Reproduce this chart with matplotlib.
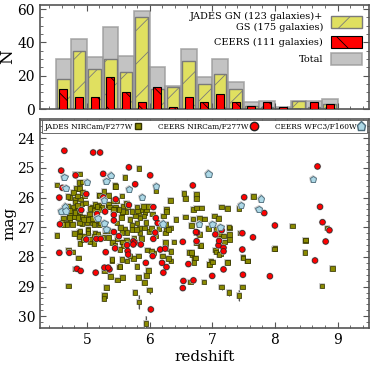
import numpy as np
import matplotlib
matplotlib.use("Agg")
import matplotlib.pyplot as plt
import matplotlib.patheffects as pe
from matplotlib.lines import Line2D

plt.rcParams['font.family'] = 'DejaVu Serif'
plt.rcParams['hatch.linewidth'] = 0.6

# histogram counts per redshift bin (bins of 0.25 from 4.5 to 9.0)
bin_lo = [4.5, 4.75, 5.0, 5.25, 5.5, 5.75, 6.0, 6.25, 6.5, 6.75,
          7.0, 7.25, 7.5, 7.75, 8.0, 8.25, 8.5, 8.75]
n_jades = [18, 35, 24, 30, 22, 55, 12, 13, 29, 15, 21, 12, 2, 1, 0, 5, 1, 3]
n_ceers = [12, 7, 7, 19, 10, 4, 13, 1, 7, 4, 9, 4, 2, 4, 1, 0, 4, 3]
n_total = [30, 42, 31, 49, 32, 59, 25, 14, 36, 19, 30, 16, 4, 5, 1, 5, 5, 6]

# JADES NIRCam/F277W (redshift, mag)
jades = [
    (4.52, 25.58), (4.81, 25.21), (4.89, 25.21), (4.88, 25.49), (4.93, 25.47), (4.83, 25.69),
    (4.88, 25.69), (4.79, 25.83), (4.93, 25.83), (4.73, 26.00), (4.81, 26.05), (4.90, 26.05),
    (4.85, 25.95), (4.96, 25.92), (5.45, 25.58), (5.45, 25.64), (5.61, 25.32), (5.83, 25.01),
    (6.10, 25.78), (5.19, 25.93), (5.27, 25.80), (5.46, 25.62), (4.70, 25.97), (6.55, 25.86),
    (6.57, 26.04), (6.75, 25.90), (6.75, 26.04), (7.66, 25.97), (6.33, 26.09), (5.34, 25.93),
    (5.56, 25.95), (5.19, 25.91),
    (4.70, 26.28), (4.79, 26.34), (4.84, 26.28), (4.73, 26.43), (4.81, 26.46), (4.72, 26.66),
    (4.78, 26.66), (4.85, 26.60), (4.95, 26.68), (5.08, 26.31), (5.13, 26.23), (5.04, 26.57),
    (5.42, 26.10), (5.48, 26.10), (5.46, 26.34), (5.34, 26.31), (5.17, 26.28), (4.81, 26.15),
    (4.85, 26.27), (4.92, 26.21), (4.98, 26.18), (5.19, 26.27), (5.17, 26.38), (5.24, 26.31),
    (5.34, 26.23), (5.36, 26.31), (5.45, 26.40), (5.12, 26.42), (4.89, 26.46), (4.81, 26.51),
    (4.73, 26.60), (4.80, 26.65), (4.86, 26.68), (4.92, 26.65), (4.73, 26.76), (4.60, 26.83),
    (4.68, 26.85), (4.92, 26.88), (5.00, 26.83), (5.05, 26.71), (5.09, 26.85), (5.16, 26.79),
    (5.19, 26.91), (5.48, 26.85), (5.56, 26.51), (5.62, 26.49), (5.58, 26.29), (5.80, 26.31),
    (5.82, 26.51), (5.89, 26.42), (5.93, 26.51), (5.95, 26.40), (5.98, 26.30), (5.90, 26.30),
    (5.81, 26.45), (5.72, 26.46), (5.63, 26.19), (5.65, 26.30), (5.57, 26.46), (5.55, 26.68),
    (5.69, 26.74), (5.78, 26.62), (5.85, 26.69), (5.91, 26.62), (5.94, 26.83), (5.80, 26.85),
    (5.84, 27.02), (5.92, 27.02), (5.85, 27.20), (5.72, 26.93), (5.61, 27.06), (5.54, 27.00),
    (5.42, 26.40), (5.51, 26.40), (5.19, 26.40), (5.16, 26.30), (5.05, 26.36), (4.95, 26.74),
    (4.88, 26.85), (5.03, 26.74), (5.09, 26.71), (5.11, 26.90), (5.22, 26.85), (5.02, 27.07),
    (4.88, 27.16), (4.77, 26.91), (4.68, 26.90), (4.72, 26.68), (4.62, 26.90), (4.63, 26.69),
    (6.27, 26.40), (6.27, 26.47), (6.42, 26.74), (6.34, 27.02), (6.26, 27.10), (6.70, 26.40),
    (6.75, 26.35), (6.83, 26.35), (6.80, 26.70), (6.69, 26.72), (6.88, 26.72), (7.04, 26.62),
    (7.15, 26.32), (7.24, 26.36), (7.10, 26.70), (7.28, 27.02), (7.43, 26.36), (8.28, 26.96),
    (8.49, 27.44), (8.83, 27.02), (8.00, 27.71), (6.57, 26.65), (6.05, 26.55), (6.22, 26.62),
    (4.52, 27.28), (4.71, 27.77), (4.77, 27.84), (4.88, 27.30), (4.89, 27.55), (4.87, 28.03),
    (4.82, 28.40), (4.95, 27.29), (5.05, 27.47), (5.13, 27.20), (5.11, 27.55), (5.28, 28.48),
    (5.38, 28.65), (5.40, 28.12), (5.49, 28.78), (5.52, 28.34), (5.57, 28.70), (5.56, 27.50),
    (5.74, 28.06), (5.80, 28.33), (5.82, 28.70), (5.92, 28.87), (5.95, 28.63), (5.98, 28.45),
    (5.97, 27.76), (6.07, 27.87), (6.34, 28.14), (6.39, 27.50), (6.25, 27.71), (6.34, 27.82),
    (6.25, 27.20), (6.63, 27.86), (6.68, 27.92), (6.72, 28.03), (6.81, 27.63), (6.95, 28.25),
    (6.98, 28.15), (7.05, 27.76), (7.14, 27.90), (7.25, 28.17), (7.49, 28.00), (7.56, 28.14),
    (7.99, 27.73), (8.48, 27.86), (8.49, 27.43), (8.92, 28.38), (6.65, 28.84), (6.87, 28.84),
    (4.89, 27.13), (5.02, 27.10), (5.02, 27.19), (4.80, 27.21), (4.88, 27.32), (4.94, 27.41),
    (5.05, 27.39), (5.11, 27.30), (5.26, 27.35), (5.18, 27.24), (5.29, 27.10), (5.37, 27.13),
    (5.34, 27.35), (5.41, 27.52), (5.48, 27.40), (5.56, 27.18), (5.64, 27.18), (5.72, 27.08),
    (5.79, 27.07), (5.75, 27.38), (5.63, 27.45), (5.57, 27.50), (5.77, 27.52), (5.87, 27.38),
    (5.99, 27.15), (6.03, 27.05), (6.09, 27.30), (6.15, 27.05), (6.21, 26.90), (6.25, 26.90),
    (6.30, 27.07), (5.45, 27.61), (5.58, 27.63), (5.53, 27.75), (5.40, 28.08), (5.56, 28.08),
    (5.64, 28.14), (5.53, 28.33), (5.82, 27.97), (5.69, 27.97), (6.03, 27.80), (6.25, 27.52),
    (6.21, 27.97), (6.30, 28.05),
    (6.67, 26.94), (6.75, 27.19), (6.80, 27.24), (6.74, 27.53), (6.82, 27.62), (6.67, 27.86),
    (6.73, 28.03), (6.71, 28.18), (6.96, 28.26), (7.00, 28.17), (7.06, 27.84), (7.11, 27.92),
    (7.24, 28.18), (7.20, 27.50), (7.28, 27.41), (7.28, 27.25), (7.27, 26.99), (7.44, 27.19),
    (7.49, 28.03), (7.56, 28.14), (6.94, 27.05), (7.07, 27.08), (7.12, 27.21), (7.18, 27.30),
    (7.11, 27.36),
]
# faint JADES sources with visible error bars (redshift, mag, err)
jades_faint = [
    (5.83, 29.52, 0.25), (5.94, 30.25, 0.25), (7.43, 29.30, 0.20), (7.27, 29.19, 0.12),
    (7.15, 29.01, 0.10), (6.00, 29.12, 0.12), (5.77, 29.19, 0.08), (8.75, 28.98, 0.08),
    (5.28, 29.30, 0.08), (5.27, 29.41, 0.06), (5.31, 29.04, 0.06), (4.71, 28.98, 0.05),
    (7.48, 29.02, 0.06), (5.28, 28.48, 0.05),
]

# CEERS NIRCam/F277W (redshift, mag)
ceers = [
    (4.64, 24.42), (5.10, 24.48), (5.21, 24.48), (4.59, 25.09), (4.82, 25.25), (5.26, 25.20),
    (5.67, 24.98), (6.01, 25.25), (5.77, 25.55), (4.56, 26.00), (4.61, 25.67), (4.99, 25.88),
    (5.26, 25.99), (5.46, 26.06), (4.91, 26.42), (5.29, 26.47), (5.67, 26.25), (6.06, 26.32),
    (4.57, 26.90), (5.43, 26.58), (5.43, 26.77), (6.10, 26.69), (6.13, 26.86), (6.69, 25.59),
    (7.51, 25.99), (7.83, 26.52), (8.00, 26.94), (8.68, 24.95), (8.72, 26.31), (8.76, 26.83),
    (8.87, 27.10), (8.81, 27.48), (8.64, 28.12), (4.56, 27.86), (4.72, 27.86), (4.84, 28.40),
    (4.90, 28.47), (4.99, 27.41), (5.15, 27.39), (5.22, 27.39), (5.14, 28.53), (5.28, 28.36),
    (5.36, 28.42), (5.30, 27.84), (5.43, 27.16), (5.45, 27.71), (5.51, 27.30), (5.65, 27.80),
    (5.66, 27.92), (5.64, 27.60), (5.74, 27.47), (5.76, 27.52), (5.86, 27.58), (5.94, 28.20),
    (6.02, 29.77), (6.05, 27.97), (6.06, 27.39), (6.09, 27.18), (6.20, 28.20), (6.22, 28.53),
    (6.27, 28.34), (6.17, 27.75), (6.53, 27.49), (6.54, 28.81), (6.53, 29.05), (6.62, 28.24),
    (6.70, 28.79), (6.75, 27.47), (6.76, 27.18), (7.00, 28.64), (7.05, 27.24), (7.10, 27.61),
    (7.11, 27.46), (7.15, 27.10), (7.18, 27.69), (7.18, 27.81), (7.18, 28.42), (7.48, 27.20),
    (7.48, 27.75), (7.49, 28.60), (7.65, 27.34), (7.92, 28.65), (6.74, 27.16), (5.16, 26.55),
    (6.25, 27.72), (5.34, 28.36), (5.74, 27.58),
]

# CEERS WFC3/F160W (redshift, mag)
wfc3 = [
    (4.64, 25.32), (4.66, 25.69), (5.00, 25.48), (5.38, 25.26), (5.31, 25.45), (5.67, 25.71),
    (5.88, 25.99), (6.10, 25.62), (6.94, 25.20), (4.65, 26.31), (4.59, 26.47), (5.27, 26.09),
    (5.17, 26.70), (5.28, 26.87), (5.31, 27.07), (6.21, 26.88), (6.79, 26.90), (7.00, 26.90),
    (7.13, 27.00), (7.46, 26.25), (7.78, 26.04), (7.74, 26.39), (8.61, 25.38), (4.66, 26.45),
]

olive = '#8a8a00'
fig = plt.figure(figsize=(3.73, 3.65), dpi=100)
ax1 = fig.add_axes([0.107, 0.701, 0.882, 0.285])
ax2 = fig.add_axes([0.107, 0.101, 0.882, 0.573])

# ---- top: histogram
centers = np.array(bin_lo) + 0.125
ax1.bar(centers, n_total, width=0.25, color='#b4b4b4', alpha=0.8, edgecolor='#999999',
        linewidth=1.2, label='Total', zorder=1)
ax1.bar(centers, n_jades, width=0.2, color='#e0e060', edgecolor='#7a7a7a', hatch='/',
        linewidth=1.0, label='JADES GN (123 galaxies)+\nGS (175 galaxies)', zorder=2)
ax1.bar(centers, n_ceers, width=0.13, color='#ff0000', edgecolor='black', hatch='\\',
        linewidth=0.8, label='CEERS (111 galaxies)', zorder=3)
ax1.set_ylim(0, 62.4)
ax1.set_xlim(4.25, 9.5)
ax1.set_yticks([0, 20, 40, 60])
ax1.set_yticks(np.arange(0, 61, 5), minor=True)
ax1.set_xticks(np.arange(4.4, 9.5, 0.2), minor=True)
ax1.set_xticks([5, 6, 7, 8, 9])
ax1.tick_params(labelbottom=False)
ax1.set_ylabel('N', fontsize=12)
ax1.yaxis.set_label_coords(-0.072, 0.5)
h, l = ax1.get_legend_handles_labels()
leg1 = ax1.legend([h[1], h[2], h[0]], [l[1], l[2], l[0]], loc='upper right', frameon=False,
                  markerfirst=False, fontsize=7, handlelength=3.2, handleheight=1.6,
                  borderaxespad=0.3, labelspacing=0.45)
for t in leg1.get_texts():
    t.set_multialignment('right')

# ---- bottom: magnitudes
halo = [pe.Stroke(linewidth=1.3, foreground='#c8c8c8'), pe.Normal()]
jz = [p[0] for p in jades]
jm = [p[1] for p in jades]
ax2.errorbar(jz, jm, yerr=0.04, fmt='s', ms=3.3, mfc=olive, mec='#333300', mew=0.5,
             ecolor='k', elinewidth=0.7, zorder=3, path_effects=halo)
fz = [p[0] for p in jades_faint]
fm = [p[1] for p in jades_faint]
fe = [p[2] for p in jades_faint]
ax2.errorbar(fz, fm, yerr=fe, fmt='s', ms=3.3, mfc=olive, mec='#333300', mew=0.5,
             ecolor='#555555', elinewidth=0.8, zorder=3, path_effects=halo)
ax2.errorbar([p[0] for p in ceers], [p[1] for p in ceers], yerr=0.04, fmt='o', ms=4.0,
             mfc='#ff0000', mec='#222222', mew=0.5, ecolor='k', elinewidth=0.8, zorder=4,
             path_effects=halo)
ax2.errorbar([p[0] for p in wfc3], [p[1] for p in wfc3], yerr=0.04, fmt='p', ms=5.0,
             mfc='#add8e6', mec='#4a6a7a', mew=0.6, ecolor='#333333', elinewidth=0.7, zorder=5,
             path_effects=halo)

ax2.set_xlim(4.25, 9.5)
ax2.set_ylim(30.4, 23.35)
ax2.set_xticks([5, 6, 7, 8, 9])
ax2.set_xticks(np.arange(4.4, 9.5, 0.2), minor=True)
ax2.set_yticks([24, 25, 26, 27, 28, 29, 30])
ax2.set_yticks(np.arange(23.4, 30.4, 0.2), minor=True)
ax2.set_xlabel('redshift', fontsize=11, labelpad=2)
ax2.set_ylabel('mag', fontsize=11)
ax2.yaxis.set_label_coords(-0.072, 0.5)

handles = [Line2D([], [], ls='none', marker='s', ms=4.5, mfc=olive, mec='#333300'),
           Line2D([], [], ls='none', marker='o', ms=6, mfc='#ff0000', mec='#222222'),
           Line2D([], [], ls='none', marker='p', ms=6.5, mfc='#add8e6', mec='#4a6a7a')]
leg2 = ax2.legend(handles, ['JADES NIRCam/F277W', 'CEERS NIRCam/F277W', 'CEERS WFC3/F160W'],
                  loc='upper left', bbox_to_anchor=(0.006, 0.995, 0.988, 0.0),
                  mode='expand', ncol=3, markerfirst=False, fontsize=5.3,
                  handlelength=0.8, handletextpad=0.3, columnspacing=1.0, fancybox=False,
                  borderaxespad=0.0, borderpad=0.35, framealpha=1)
leg2.get_frame().set_edgecolor('#555555')
leg2.get_frame().set_linewidth(0.6)

for ax in (ax1, ax2):
    ax.tick_params(which='both', direction='in', top=True, right=True, labelsize=10,
                   color='#555555')
    ax.tick_params(which='major', length=4)
    ax.tick_params(which='minor', length=2)
    for s in ax.spines.values():
        s.set_color('#555555')
        s.set_linewidth(1.2)

fig.savefig('out.png', dpi=100)
